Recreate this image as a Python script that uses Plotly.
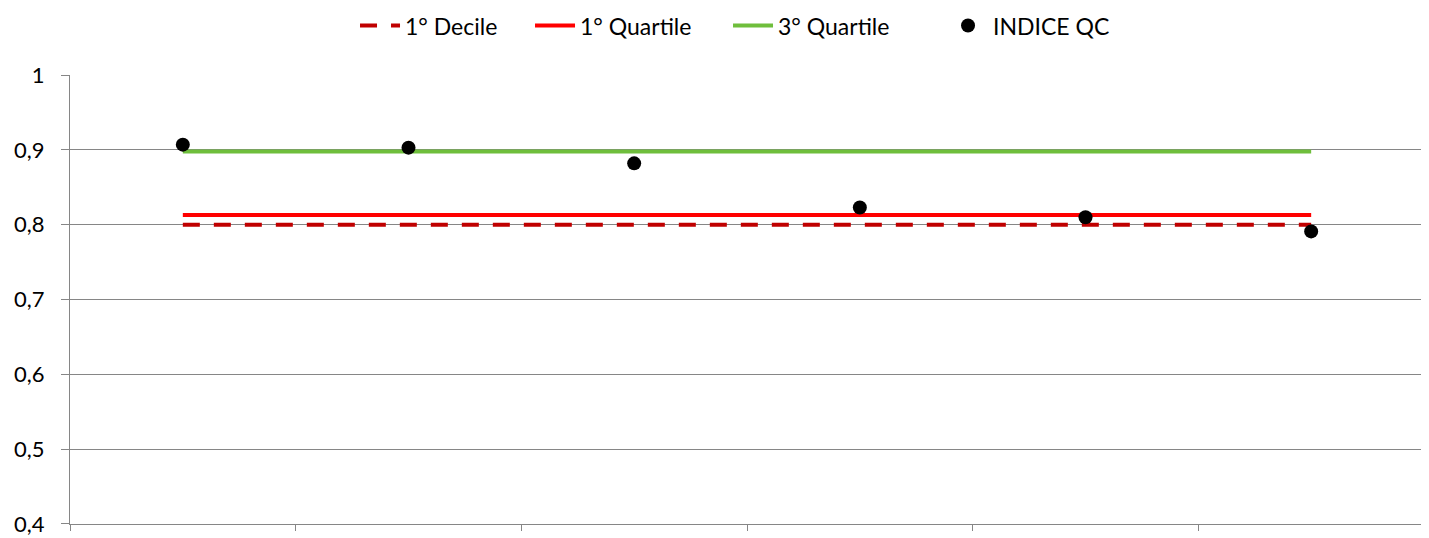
import plotly.graph_objects as go

# categories (unlabelled in the original) and series values
cats = [1, 2, 3, 4, 5, 6]
indice_qc = [0.907, 0.903, 0.882, 0.823, 0.810, 0.791]
decile_1 = [0.800] * 6
quartile_1 = [0.813] * 6
quartile_3 = [0.898] * 6
y_ticks = [0.4, 0.5, 0.6, 0.7, 0.8, 0.9, 1.0]
y_tick_text = ["0,4", "0,5", "0,6", "0,7", "0,8", "0,9", "1"]

fig = go.Figure()
fig.add_trace(go.Scatter(x=cats, y=decile_1, name="1° Decile", mode="lines", legendwidth=120,
                         line=dict(color="#C00000", width=4, dash="17px,14px")))
fig.add_trace(go.Scatter(x=cats, y=quartile_1, name="1° Quartile", mode="lines", legendwidth=143,
                         line=dict(color="#FF0000", width=4)))
fig.add_trace(go.Scatter(x=cats, y=quartile_3, name="3° Quartile", mode="lines", legendwidth=160,
                         line=dict(color="#6FBE3C", width=4)))
fig.add_trace(go.Scatter(x=cats, y=indice_qc, name="INDICE QC", mode="markers", legendwidth=120,
                         marker=dict(color="black", size=14)))

# page body has an 8px margin, so the figure is shrunk by 8px to fit the window
fig.update_layout(
    width=1421, height=530,
    margin=dict(l=62, r=5, t=67, b=14, autoexpand=False),
    paper_bgcolor="white", plot_bgcolor="white",
    font=dict(family="Lato, Open Sans, sans-serif", color="black"),
    showlegend=True,
    legend=dict(orientation="h", x=0.2105, xanchor="left", y=1.11, yanchor="middle",
                font=dict(size=23), itemwidth=40, traceorder="normal"),
)
fig.update_xaxes(range=[0.5, 6.5], tickvals=[0.5, 1.5, 2.5, 3.5, 4.5, 5.5, 6.5],
                 showticklabels=False, ticks="outside", ticklen=6, tickcolor="#868686",
                 showgrid=False, showline=True, linecolor="#868686", linewidth=1,
                 zeroline=False)
fig.update_yaxes(range=[0.3999, 1.0001], tickvals=y_ticks, ticktext=y_tick_text,
                 ticks="outside", ticklen=8, tickcolor="#868686",
                 showgrid=True, gridcolor="#868686", gridwidth=1,
                 showline=True, linecolor="#868686", linewidth=1,
                 zeroline=False, tickfont=dict(size=22), ticklabelstandoff=12,
                 ticklabeloverflow="allow")

fig.write_html("out.html")
